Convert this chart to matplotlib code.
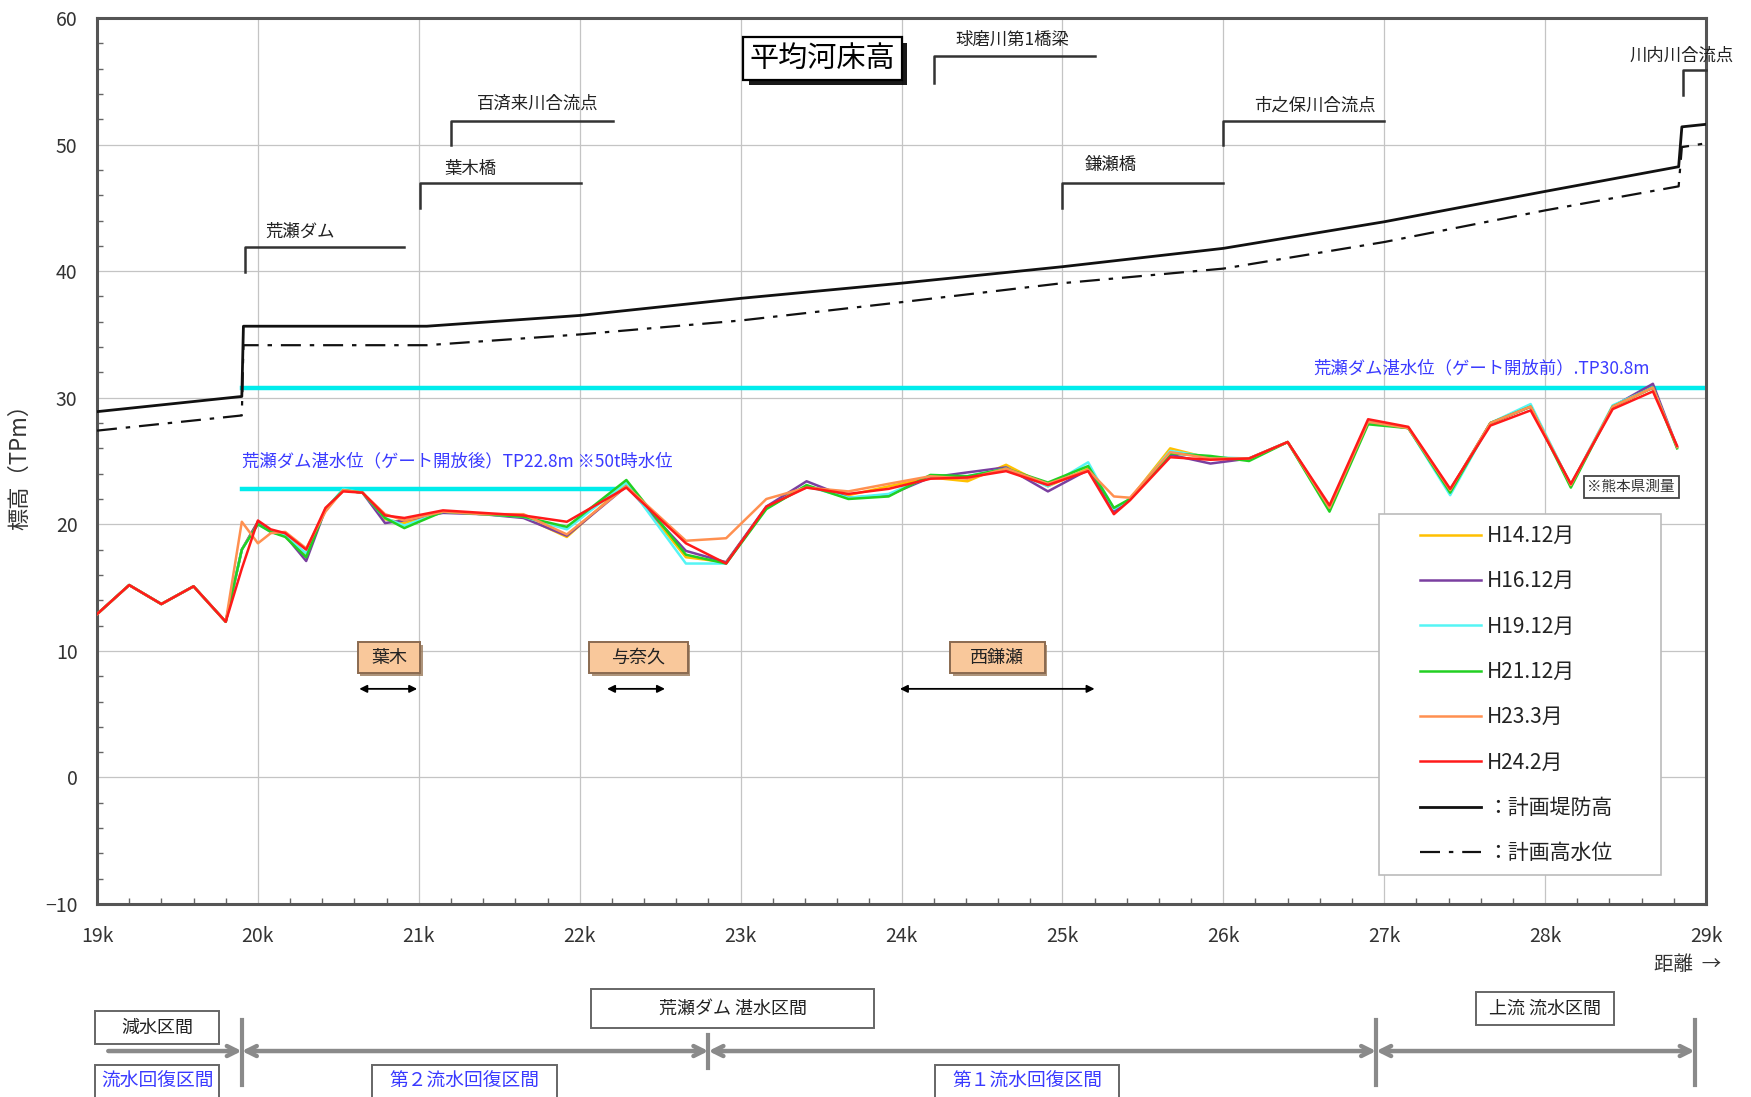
import matplotlib
matplotlib.use("Agg")
import matplotlib.pyplot as plt
import matplotlib.patheffects as pe
from matplotlib.patches import Rectangle
from matplotlib.ticker import MultipleLocator

plt.rcParams['font.family'] = ['Noto Sans CJK JP', 'DejaVu Sans']

# 距離標 (km) と各年の平均河床高 (TP m)
km_bed = [19.0, 19.2, 19.4, 19.6, 19.8, 19.9, 20.0, 20.08, 20.17, 20.3,
          20.42, 20.53, 20.65, 20.79, 20.91, 21.15, 21.4, 21.65, 21.92, 22.29,
          22.66, 22.91, 23.16, 23.41, 23.67, 23.92, 24.18, 24.41, 24.65, 24.91,
          25.16, 25.32, 25.42, 25.67, 25.92, 26.16, 26.40, 26.66, 26.90, 27.15,
          27.41, 27.66, 27.91, 28.16, 28.42, 28.67, 28.82]

bed_h14 = [12.9, 15.2, 13.7, 15.1, 12.3, 18.0, 20.2, 19.4, 19.2, 17.6,
           21.2, 22.7, 22.5, 20.4, 20.1, 21.0, 20.8, 20.6, 19.0, 23.2,
           17.4, 17.0, 21.3, 23.0, 22.3, 23.0, 23.7, 23.4, 24.7, 23.0,
           24.4, 21.1, 22.0, 26.0, 25.2, 25.2, 26.5, 21.3, 28.1, 27.6,
           22.7, 28.0, 29.3, 23.1, 29.3, 30.8, 26.1]
bed_h16 = [12.9, 15.2, 13.7, 15.1, 12.3, 18.0, 20.2, 19.4, 19.1, 17.1,
           21.2, 22.7, 22.5, 20.1, 20.3, 20.9, 20.8, 20.5, 19.1, 23.0,
           17.9, 17.0, 21.4, 23.4, 22.1, 22.3, 23.7, 24.1, 24.5, 22.6,
           24.3, 21.0, 22.0, 25.5, 24.8, 25.2, 26.5, 21.3, 28.1, 27.6,
           22.7, 28.0, 29.3, 23.1, 29.3, 31.1, 26.1]
bed_h19 = [12.9, 15.2, 13.7, 15.1, 12.3, 18.0, 20.0, 19.4, 19.1, 17.7,
           21.2, 22.8, 22.5, 20.5, 19.9, 21.0, 20.8, 20.6, 19.6, 23.3,
           16.9, 16.9, 21.3, 23.0, 22.1, 22.4, 23.8, 23.8, 24.4, 23.0,
           24.9, 21.2, 22.0, 25.8, 25.3, 25.2, 26.5, 21.3, 28.1, 27.6,
           22.3, 28.0, 29.5, 23.1, 29.4, 30.8, 26.1]
bed_h21 = [12.9, 15.2, 13.7, 15.1, 12.3, 18.0, 20.0, 19.4, 19.0, 17.4,
           21.2, 22.7, 22.5, 20.5, 19.7, 21.0, 20.8, 20.6, 19.8, 23.5,
           17.6, 16.9, 21.2, 23.1, 22.0, 22.2, 23.9, 23.8, 24.4, 23.3,
           24.6, 21.3, 22.0, 25.6, 25.4, 25.0, 26.5, 21.0, 27.9, 27.6,
           22.5, 28.0, 29.3, 22.9, 29.3, 30.8, 26.0]
bed_h23 = [12.9, 15.2, 13.7, 15.1, 12.3, 20.2, 18.5, 19.3, 19.4, 18.1,
           21.0, 22.7, 22.5, 20.8, 20.3, 21.0, 20.8, 20.8, 19.2, 23.0,
           18.7, 18.9, 22.0, 22.9, 22.6, 23.2, 23.8, 23.6, 24.4, 23.2,
           24.3, 22.2, 22.1, 25.7, 25.2, 25.2, 26.5, 21.3, 28.1, 27.6,
           22.7, 28.0, 29.3, 23.1, 29.3, 30.8, 26.1]
bed_h24 = [12.9, 15.2, 13.7, 15.1, 12.3, 16.5, 20.3, 19.6, 19.3, 18.0,
           21.3, 22.6, 22.5, 20.7, 20.5, 21.1, 20.9, 20.7, 20.2, 22.9,
           18.5, 16.9, 21.4, 22.9, 22.4, 22.8, 23.6, 23.7, 24.2, 23.1,
           24.2, 20.8, 21.9, 25.3, 25.1, 25.2, 26.5, 21.5, 28.3, 27.7,
           22.8, 27.8, 29.0, 23.2, 29.1, 30.5, 26.2]

series_labels = ['H14.12月', 'H16.12月', 'H19.12月', 'H21.12月', 'H23.3月', 'H24.2月']
series_values = [bed_h14, bed_h16, bed_h19, bed_h21, bed_h23, bed_h24]
series_colors = ['#ffc000', '#7a3fa0', '#55f5f5', '#22d022', '#ff9050', '#ff1a1a']

# 計画堤防高・計画高水位
km_plan = [19.0, 19.9, 19.91, 21.05, 22.0, 23.0, 24.0, 25.0, 26.0, 27.0, 28.0, 28.83, 28.85, 29.0]
levee_plan = [28.9, 30.1, 35.65, 35.65, 36.5, 37.85, 39.05, 40.35, 41.8, 43.9, 46.3, 48.25, 51.4, 51.6]
hwl_plan = [27.4, 28.6, 34.15, 34.15, 35.0, 36.1, 37.55, 39.05, 40.2, 42.3, 44.8, 46.7, 49.8, 50.1]

# 荒瀬ダム湛水位
pool_before = 30.8
pool_after = 22.8
pool_before_range = (19.9, 29.0)
pool_after_range = (19.9, 22.22)

# 地点名: 名称, 引出し線の始点km, 終点km
landmarks = [('荒瀬ダム', 19.92, 20.91), ('葉木橋', 21.01, 22.01),
             ('百済来川合流点', 21.20, 22.21), ('球磨川第1橋梁', 24.20, 25.20),
             ('鎌瀬橋', 25.0, 26.0), ('市之保川合流点', 26.0, 27.0),
             ('川内川合流点', 28.86, 29.0)]
landmark_levels = [(39.9, 41.9), (45.0, 47.0), (50.0, 51.9), (54.9, 57.0),
                   (45.0, 47.0), (50.0, 51.9), (53.9, 55.9)]
landmark_text_pos = [(20.26, 43.1), (21.32, 48.1), (21.74, 53.2), (24.69, 58.3),
                     (25.30, 48.4), (26.57, 53.1), (28.85, 57.0)]

# 集落名と範囲
places = ['葉木', '与奈久', '西鎌瀬']
place_box = [(20.62, 21.01), (22.06, 22.67), (24.30, 24.89)]
place_arrow = [(20.63, 20.99), (22.17, 22.53), (23.99, 25.20)]

# 区間区分
section_bounds = [19.9, 22.8, 26.95, 28.93]
upper_sections = ['減水区間', '荒瀬ダム 湛水区間', '上流 流水区間']
upper_spans = [(18.99, 19.76), (22.07, 23.83), (27.57, 28.43)]
upper_levels = [(0.442, 0.717), (0.575, 0.9), (0.6, 0.875)]
lower_sections = ['流水回復区間', '第２流水回復区間', '第１流水回復区間']
lower_spans = [(18.99, 19.76), (20.71, 21.86), (24.21, 25.35)]

xticks = [19, 20, 21, 22, 23, 24, 25, 26, 27, 28, 29]
xtick_labels = [f'{k}k' for k in xticks]

fig = plt.figure(figsize=(17.51, 10.97), dpi=100)
ax = fig.add_axes([0.0554, 0.1759, 0.9189, 0.8077])

ax.set_xlim(19, 29)
ax.set_ylim(-10, 60)
ax.set_xticks(xticks)
ax.set_xticklabels(xtick_labels)
ax.set_yticks(range(-10, 61, 10))
ax.xaxis.set_minor_locator(MultipleLocator(0.2))
ax.yaxis.set_minor_locator(MultipleLocator(2))
ax.tick_params(which='both', direction='in', colors='#666666', labelcolor='#333333',
               labelsize=14)
ax.tick_params(which='major', length=0)
ax.tick_params(which='minor', length=4, width=1)
ax.tick_params(axis='x', pad=16)
ax.tick_params(axis='y', pad=14)
ax.grid(True, which='major', color='#c4c4c4', lw=0.9)
ax.set_axisbelow(True)
for sp in ax.spines.values():
    sp.set_color('#555555')
    sp.set_linewidth(2.2)

ax.set_ylabel('標高（TPm）', fontsize=16, color='#333333')
ax.yaxis.set_label_coords(-0.041, 0.5)

# 湛水位
ax.plot(pool_before_range, [pool_before, pool_before], color='#00ecec', lw=3.2, zorder=2)
ax.plot(pool_after_range, [pool_after, pool_after], color='#00ecec', lw=3.2, zorder=2)
ax.text(28.65, 32.3, '荒瀬ダム湛水位（ゲート開放前）.TP30.8m', color='#3a3aff',
        fontsize=12.5, ha='right', va='center')
ax.text(19.9, 25.0, '荒瀬ダム湛水位（ゲート開放後）TP22.8m ※50t時水位',
        color='#3a3aff', fontsize=12.5, ha='left', va='center')

# 河床高
handles = []
for lab, vals, col in zip(series_labels, series_values, series_colors):
    h, = ax.plot(km_bed, vals, color=col, lw=1.8, label=lab, zorder=3)
    handles.append(h)

h_levee, = ax.plot(km_plan, levee_plan, color='#111111', lw=2.0, label='：計画堤防高', zorder=3)
h_hwl, = ax.plot(km_plan, hwl_plan, color='#111111', lw=1.6, label='：計画高水位',
                 dashes=(9, 4, 2, 4), zorder=3)
handles += [h_levee, h_hwl]

# 凡例の枠
ax.add_patch(Rectangle((26.97, -7.7), 1.75, 28.5, fc='white', ec='#bbbbbb', lw=1.2, zorder=4))
leg = ax.legend(handles=handles, loc='upper left', bbox_to_anchor=(27.22, 19.95),
                bbox_transform=ax.transData, fontsize=15, frameon=False,
                handlelength=2.95, handletextpad=0.3, labelspacing=1.12,
                borderpad=0, borderaxespad=0)
leg.set_zorder(5)
for t in leg.get_texts():
    t.set_color('#222222')

# 地点の引出し線
for (name, x0, x1), (y0, y1), (tx, ty) in zip(landmarks, landmark_levels, landmark_text_pos):
    ax.plot([x0, x0, x1], [y0, y1, y1], color='#333333', lw=1.8, clip_on=False, zorder=4)
    ax.text(tx, ty, name, fontsize=12.5, ha='center', va='center', color='#222222')

# 表題
title = ax.text(23.51, 56.8, '平均河床高', fontsize=21, ha='center', va='center', zorder=5,
                bbox=dict(boxstyle='square,pad=0.22', fc='white', ec='black', lw=1.6))
title.get_bbox_patch().set_path_effects([
    pe.SimplePatchShadow(offset=(4, -4), shadow_rgbFace='black', alpha=0.9), pe.Normal()])

# 熊本県測量の注記
ax.text(28.535, 22.95, '※熊本県測量', fontsize=10.5, ha='center', va='center', color='#333333',
        bbox=dict(boxstyle='square,pad=0.25', fc='white', ec='#444444', lw=1.3), zorder=5)

# 集落名
for name, (bx0, bx1), (ax0, ax1) in zip(places, place_box, place_arrow):
    r = Rectangle((bx0, 8.22), bx1 - bx0, 2.45, fc='#f9c89b', ec='#8a6a50', lw=1.4, zorder=4)
    r.set_path_effects([pe.SimplePatchShadow(offset=(2, -2), shadow_rgbFace='#9a7a5a', alpha=0.8),
                        pe.Normal()])
    ax.add_patch(r)
    ax.text((bx0 + bx1) / 2, 9.45, name, fontsize=13, ha='center', va='center', zorder=5,
            color='#222222')
    ax.annotate('', xy=(ax1, 7.0), xytext=(ax0, 7.0),
                arrowprops=dict(arrowstyle='<|-|>', color='black', lw=1.3,
                                mutation_scale=11, shrinkA=0, shrinkB=0))

fig.text(1688 / 1751, 1 - 965 / 1097, '距離  →', fontsize=14, ha='center', va='center',
         color='#333333')

# 区間の帯
band = fig.add_axes([0.0554, 0.0, 0.9189, 0.1094])
band.set_xlim(19, 29)
band.set_ylim(0, 1)
band.axis('off')

grey = '#8a8a8a'
band.annotate('', xy=(section_bounds[0], 0.383), xytext=(19.07, 0.383),
              arrowprops=dict(arrowstyle='->', color=grey, lw=3.2, mutation_scale=18,
                              shrinkA=0, shrinkB=0))
for a, b in zip(section_bounds[:-1], section_bounds[1:]):
    band.annotate('', xy=(b, 0.383), xytext=(a, 0.383),
                  arrowprops=dict(arrowstyle='<->', color=grey, lw=3.2, mutation_scale=18,
                                  shrinkA=0, shrinkB=0))
for i, b in enumerate(section_bounds):
    lo, hi = (0.242, 0.517) if i == 1 else (0.1, 0.642)
    band.plot([b, b], [lo, hi], color=grey, lw=3.0, clip_on=False)

for name, (x0, x1), (y0, y1) in zip(upper_sections, upper_spans, upper_levels):
    band.add_patch(Rectangle((x0, y0), x1 - x0, y1 - y0, fc='white', ec='#666666', lw=1.4,
                             clip_on=False))
    band.text((x0 + x1) / 2, (y0 + y1) / 2, name, fontsize=13, ha='center', va='center',
              color='#222222')

for name, (x0, x1) in zip(lower_sections, lower_spans):
    band.add_patch(Rectangle((x0, -0.05), x1 - x0, 0.317, fc='white', ec='#666666', lw=1.4,
                             clip_on=False))
    band.text((x0 + x1) / 2, 0.13, name, fontsize=13.5, ha='center', va='center',
              color='#3a3aff')

fig.savefig('out.png', dpi=100)
